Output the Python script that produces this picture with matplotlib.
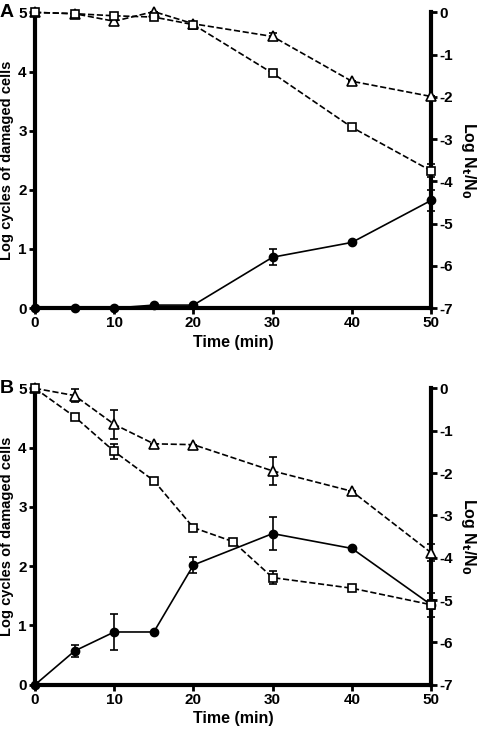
import numpy as np
import matplotlib
matplotlib.use("Agg")
from matplotlib import pyplot as plt

plt.rcParams['font.family'] = ['Liberation Sans', 'DejaVu Sans']
plt.rcParams['font.weight'] = 'bold'

# ---- data ----
# panel A
time_a = [0, 5, 10, 15, 20, 30, 40, 50]
damaged_a = [0, 0, 0, 0.05, 0.05, 0.86, 1.11, 1.82]
damaged_a_err = [0, 0, 0, 0, 0, 0.14, 0, 0.18]
tri_a = [0, -0.03, -0.21, 0.02, -0.27, -0.57, -1.63, -1.99]
tri_a_err = [0, 0, 0.05, 0, 0.05, 0.08, 0, 0]
sq_a = [0, -0.03, -0.08, -0.11, -0.29, -1.44, -2.72, -3.75]
sq_a_err = [0, 0, 0, 0, 0.05, 0, 0, 0.15]

# panel B
time_b = [0, 5, 10, 15, 20, 30, 40, 50]
damaged_b = [0, 0.57, 0.89, 0.89, 2.02, 2.55, 2.30, 1.35]
damaged_b_err = [0, 0.1, 0.3, 0, 0.14, 0.28, 0, 0.2]
tri_b = [0, -0.17, -0.85, -1.31, -1.33, -1.95, -2.43, -3.88]
tri_b_err = [0, 0.16, 0.35, 0, 0, 0.34, 0, 0.2]
time_b_sq = [0, 5, 10, 15, 20, 25, 30, 40, 50]
sq_b = [0, -0.67, -1.49, -2.18, -3.29, -3.62, -4.47, -4.72, -5.11]
sq_b_err = [0, 0, 0.18, 0, 0, 0, 0.16, 0, 0.1]

left_ticks = [0, 1, 2, 3, 4, 5]
right_ticks = [0, -1, -2, -3, -4, -5, -6, -7]
x_ticks = [0, 10, 20, 30, 40, 50]

fig = plt.figure(figsize=(4.8, 7.3), dpi=100)


def panel(rect, letter, t, dmg, dmg_err, t_tri, tri, tri_err, t_sq, sq, sq_err):
    ax = fig.add_axes(rect)
    ax2 = ax.twinx()
    ax.set_xlim(0, 50)
    ax.set_ylim(0, 5)
    ax2.set_ylim(-7, 0)

    # damaged cells, solid line with filled circles
    ax.errorbar(t, dmg, yerr=dmg_err, color='black', lw=1.2, marker='o', ms=6,
                capsize=3, capthick=1.2, elinewidth=1.2, clip_on=False, zorder=3)
    # survival curves on the right axis
    ax2.errorbar(t_tri, tri, yerr=tri_err, color='black', lw=1.2, ls='--', marker='^',
                 ms=7, mfc='white', mec='black', mew=1.2, capsize=3, capthick=1.2,
                 elinewidth=1.2, clip_on=False, zorder=3)
    ax2.errorbar(t_sq, sq, yerr=sq_err, color='black', lw=1.2, ls='--', marker='s',
                 ms=6, mfc='white', mec='black', mew=1.2, capsize=3, capthick=1.2,
                 elinewidth=1.2, clip_on=False, zorder=3)

    for a in (ax, ax2):
        a.spines['top'].set_visible(False)
        for s in ('left', 'right', 'bottom'):
            a.spines[s].set_linewidth(3)
    ax.spines['right'].set_visible(False)
    ax2.spines['left'].set_visible(False)
    ax2.spines['bottom'].set_visible(False)

    ax.set_xticks(x_ticks)
    ax.set_yticks(left_ticks)
    ax2.set_yticks(right_ticks)
    ax2.set_yticklabels([str(v) for v in right_ticks])
    ax.tick_params(axis='both', width=2, length=4, labelsize=11, pad=2)
    ax2.tick_params(axis='y', width=2, length=4, labelsize=11, pad=2)
    for lab in ax.get_xticklabels() + ax.get_yticklabels() + ax2.get_yticklabels():
        lab.set_fontweight('bold')

    ax.set_xlabel('Time (min)', fontsize=11.5, fontweight='bold', labelpad=3)
    ax.set_ylabel('Log cycles of damaged cells', fontsize=10.5, fontweight='bold', labelpad=3)
    ax2.set_ylabel('Log N$_\\mathbf{t}$/N$_\\mathbf{0}$', fontsize=11.5, fontweight='bold',
                   rotation=270, labelpad=18)
    ax.text(-0.09, 1.0, letter, transform=ax.transAxes, fontsize=14, fontweight='bold',
            ha='left', va='center')
    return ax


panel([0.073, 0.578, 0.825, 0.405], 'A', time_a, damaged_a, damaged_a_err,
      time_a, tri_a, tri_a_err, time_a, sq_a, sq_a_err)
panel([0.073, 0.062, 0.825, 0.406], 'B', time_b, damaged_b, damaged_b_err,
      time_b, tri_b, tri_b_err, time_b_sq, sq_b, sq_b_err)

fig.savefig('out.png', dpi=100)
